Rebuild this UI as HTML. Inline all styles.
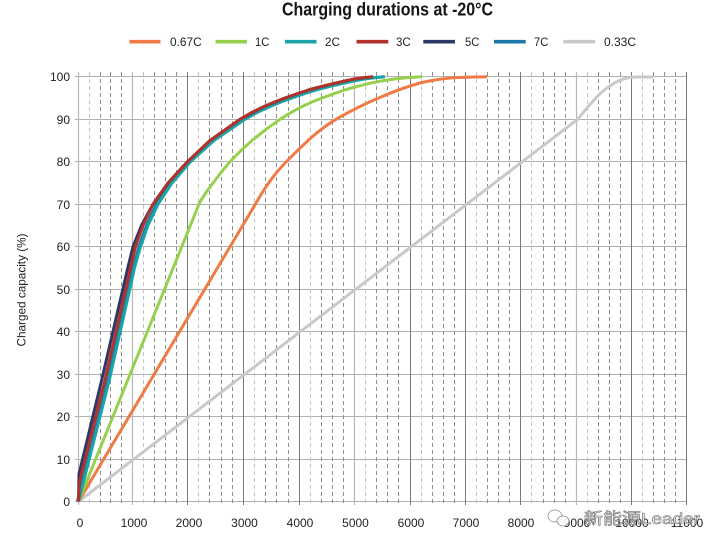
<!DOCTYPE html>
<html><head><meta charset="utf-8"><style>
html,body{margin:0;padding:0;background:#fff;}
svg{display:block;}
</style></head><body>
<svg width="720" height="550" viewBox="0 0 720 550" xmlns="http://www.w3.org/2000/svg" font-family="Liberation Sans, Arial, sans-serif">
<rect width="720" height="550" fill="#fff"/>
<!-- title -->
<text x="387.5" y="15.7" font-size="18" font-weight="bold" fill="#151515" text-anchor="middle" textLength="211" lengthAdjust="spacingAndGlyphs">Charging durations at -20°C</text>
<!-- legend -->
<g stroke-width="3.6" fill="none">
<line x1="129.5" y1="41.7" x2="160.5" y2="41.7" stroke="#ee7b45"/>
<line x1="215.5" y1="41.7" x2="247" y2="41.7" stroke="#97d04e"/>
<line x1="285" y1="41.7" x2="316.5" y2="41.7" stroke="#1ba4a6"/>
<line x1="356.5" y1="41.7" x2="388.3" y2="41.7" stroke="#b2322b"/>
<line x1="423.3" y1="41.7" x2="455" y2="41.7" stroke="#2e3866"/>
<line x1="494" y1="41.7" x2="525.7" y2="41.7" stroke="#1c78a8"/>
<line x1="563.3" y1="41.7" x2="595" y2="41.7" stroke="#c9c9c9"/>
</g>
<g font-size="12" fill="#222">
<text x="170" y="46" textLength="31.7" lengthAdjust="spacingAndGlyphs">0.67C</text>
<text x="255" y="46" textLength="14.3" lengthAdjust="spacingAndGlyphs">1C</text>
<text x="325" y="46" textLength="15" lengthAdjust="spacingAndGlyphs">2C</text>
<text x="396" y="46" textLength="14.7" lengthAdjust="spacingAndGlyphs">3C</text>
<text x="465" y="46" textLength="14.3" lengthAdjust="spacingAndGlyphs">5C</text>
<text x="534" y="46" textLength="14.3" lengthAdjust="spacingAndGlyphs">7C</text>
<text x="604" y="46" textLength="32" lengthAdjust="spacingAndGlyphs">0.33C</text>
</g>
<!-- horizontal grid -->
<path d="M75,501.5H686.5M75,459.5H686.5M75,416.5H686.5M75,374.5H686.5M75,331.5H686.5M75,289.5H686.5M75,246.5H686.5M75,204.5H686.5M75,161.5H686.5M75,119.5H686.5M75,76.5H686.5" stroke="#b0b0b0" stroke-width="1" fill="none"/>
<!-- minor dashed -->
<path d="M89.5,72V505M143.5,72V505M198.5,72V505M254.5,72V505M310.5,72V505M365.5,72V505M421.5,72V505M476.5,72V505M531.5,72V505M587.5,72V505M642.5,72V505" stroke="#c4c4c4" stroke-width="1" stroke-dasharray="4,3" fill="none"/>
<path d="M100.5,72V505M110.5,72V505M121.5,72V505M154.5,72V505M165.5,72V505M176.5,72V505M209.5,72V505M221.5,72V505M232.5,72V505M265.5,72V505M276.5,72V505M288.5,72V505M321.5,72V505M332.5,72V505M343.5,72V505M376.5,72V505M387.5,72V505M398.5,72V505M432.5,72V505M443.5,72V505M454.5,72V505M487.5,72V505M498.5,72V505M509.5,72V505M543.5,72V505M554.5,72V505M565.5,72V505M598.5,72V505M609.5,72V505M620.5,72V505M653.5,72V505M664.5,72V505M675.5,72V505" stroke="#8e8e8e" stroke-width="1" stroke-dasharray="4,3" fill="none"/>
<!-- major verticals -->
<path d="M78.5,72V505M132.5,72V505M354.5,72V505M576.5,72V505" stroke="#b8b8b8" stroke-width="1.2" fill="none"/>
<path d="M187.5,72V505M243.5,72V505M299.5,72V505M410.5,72V505M465.5,72V505M520.5,72V505M631.5,72V505M686.5,72V505" stroke="#7a7a7a" stroke-width="1" fill="none"/>
<!-- series -->
<g fill="none" stroke-width="3" stroke-linejoin="round" stroke-linecap="butt">
<!-- 0.33C gray -->
<path stroke="#c9c9c9" d="M78.5,501.5 L578,119 C590,104 600,92 610,86 C618,80 626,77.3 636,77 L653.5,77"/>
<!-- 0.67C orange -->
<path stroke="#ee7b45" d="M78.5,501.5 L262,193 C272,177 280,168 290,158 C305,143 320,128 340,117 C365,103 395,90 420,83 C445,77 465,77 487,76.8"/>
<!-- 1C green -->
<polyline stroke="#97d04e" points="78.5,501.5 200,201.7 206,192.5 213,183 221,172.5 230,161.7 240.5,151 252,140.5 265.5,129.7 280,119.3 290.5,112.8 302,106.5 312,102 322,98 334,93.7 346,89.5 358,86.3 370,83.2 382,80.9 395,78.9 408,77.6 422,76.8"/>
<!-- 7C blue (under teal) -->
<polyline stroke="#1c78a8" points="77.5,501.5 108,380 130.3,280.7 133.2,267.9 139,246.7 146.5,225.4 156.5,204.2 170.5,183 189,161.7 212.5,140.5 243.5,119.3 268.5,106.5 290.5,98 316.5,89.5 342.5,83.2 363.5,78.9 383.5,76.8"/>
<!-- 2C teal -->
<polyline stroke="#1ba4a6" points="78.5,501.5 109.3,380 131.7,280.7 134.5,267.9 140.5,246.7 148,225.4 158,204.2 172,183 190.5,161.7 214,140.5 245,119.3 257,112.5 270,106.5 281,102 292,98 305,93.5 318,89.5 331,86 344,83.2 355,80.8 365,78.9 375,77.6 385,76.8"/>
<!-- 5C navy -->
<polyline stroke="#2e3866" points="78.5,501.5 79,474 101.7,380 124.8,280.7 127.8,267.9 133,246.7 141.5,225.4 153,204.2 168,183 187.5,161.7 210,140.5 240,119.3 264,106.5 285,98 310,89.5 335,83.2 355,78.9 373,76.8"/>
<!-- 3C red -->
<polyline stroke="#b2322b" points="78.5,501.5 79.5,482 105,380 127.7,280.7 130.5,267.9 135.5,246.7 143,225.4 153,204.2 168,183 187.5,161.7 210,140.5 240,119.3 251.5,112.6 264,106.5 274.5,102 285,98 297.5,93.5 310,89.5 322.5,86.2 335,83.2 345,80.9 355,78.9 364,77.6 373,76.8"/>
</g>
<!-- y tick labels -->
<g font-size="12" fill="#222" text-anchor="end">
<text x="70" y="506">0</text>
<text x="70" y="464">10</text>
<text x="70" y="421">20</text>
<text x="70" y="379">30</text>
<text x="70" y="336">40</text>
<text x="70" y="294">50</text>
<text x="70" y="251">60</text>
<text x="70" y="209">70</text>
<text x="70" y="166">80</text>
<text x="70" y="124">90</text>
<text x="70" y="81">100</text>
</g>
<!-- x tick labels -->
<g font-size="12" fill="#222" text-anchor="middle">
<text x="80" y="527">0</text>
<text x="134" y="527">1000</text>
<text x="189" y="527">2000</text>
<text x="244.5" y="527">3000</text>
<text x="300" y="527">4000</text>
<text x="355.5" y="527">5000</text>
<text x="411" y="527">6000</text>
<text x="466" y="527">7000</text>
<text x="521" y="527">8000</text>
<text x="577" y="527">9000</text>
<text x="632" y="527">10000</text>
<text x="687" y="527">11000</text>
</g>
<!-- y axis title -->
<text transform="translate(25.5,290) rotate(-90)" font-size="12" fill="#222" text-anchor="middle" textLength="113" lengthAdjust="spacingAndGlyphs">Charged capacity (%)</text>
<!-- watermark -->
<g fill="rgba(255,255,255,0.85)" stroke="#8a8a8a" stroke-width="0.8">
<ellipse cx="555" cy="516" rx="7" ry="6"/>
<ellipse cx="563" cy="521" rx="6" ry="5"/>
</g>
<text x="584" y="524" font-family="Liberation Sans, Noto Sans CJK SC, sans-serif" font-size="16" fill="rgba(255,255,255,0.8)" stroke="#6a6a6a" stroke-width="0.6" textLength="116" lengthAdjust="spacingAndGlyphs">新能源Leader</text>
</svg>
</body></html>
